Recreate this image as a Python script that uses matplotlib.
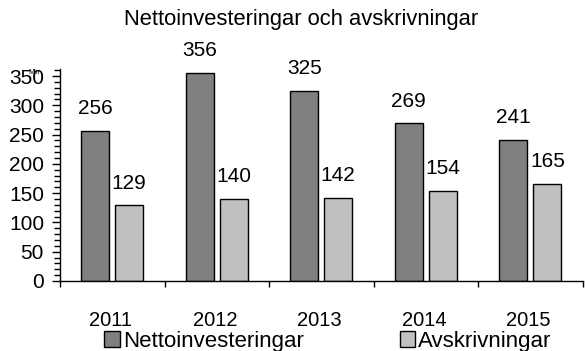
import numpy as np
import matplotlib.pyplot as plt
from matplotlib.patches import Patch
from matplotlib.ticker import MultipleLocator

plt.rcParams['font.family'] = ['Liberation Sans', 'DejaVu Sans']

years = ['2011', '2012', '2013', '2014', '2015']
netto = [256, 356, 325, 269, 241]
avskr = [129, 140, 142, 154, 165]

dark = '#808080'
light = '#c0c0c0'

fig = plt.figure(figsize=(5.85, 3.51), dpi=100)
ax = fig.add_axes([60 / 585, 70 / 351, 523 / 585, 212 / 351])

x = np.arange(len(years))
w = 0.268
b1 = ax.bar(x - 0.165, netto, w, color=dark, edgecolor='black', linewidth=1.0)
b2 = ax.bar(x + 0.16, avskr, w, color=light, edgecolor='black', linewidth=1.0)

for bars, vals in ((b1, netto), (b2, avskr)):
    for r, v in zip(bars, vals):
        ax.text(r.get_x() + r.get_width() / 2, v + 22, str(v),
                ha='center', va='bottom', fontsize=15)

ax.set_xlim(-0.5, len(years) - 0.5)
ax.set_ylim(0, 362)
ax.yaxis.set_major_locator(MultipleLocator(50))
ax.yaxis.set_minor_locator(MultipleLocator(10))
# category separators only, year labels are placed as text below
ax.set_xticks([])
ax.set_xticks(np.arange(-0.5, len(years)), minor=True)
ax.tick_params(axis='x', which='minor', direction='out', length=4, width=1)
ax.tick_params(axis='y', which='major', direction='out', length=6, width=1,
               labelsize=15, pad=5.5)
ax.tick_params(axis='y', which='minor', direction='out', length=4, width=1)

for i, yr in enumerate(years):
    ax.text(i - 0.02, -52, yr, ha='center', va='top', fontsize=14.5)

for side in ('top', 'right'):
    ax.spines[side].set_visible(False)
ax.spines['left'].set_linewidth(1)
ax.spines['bottom'].set_linewidth(1)

fig.text(301 / 585, (351 - 20) / 351, 'Nettoinvesteringar och avskrivningar',
         ha='center', va='center', fontsize=15.8)
fig.text(34 / 585, (351 - 73) / 351, 'Mkr', ha='center', va='center',
         fontsize=5)

handles = [Patch(facecolor=dark, edgecolor='black', linewidth=1),
           Patch(facecolor=light, edgecolor='black', linewidth=1)]
fig.legend(handles, ['Nettoinvesteringar', 'Avskrivningar'], ncol=2,
           loc='center', bbox_to_anchor=(328 / 585, 10 / 351), frameon=False,
           fontsize=16, handlelength=0.7, handleheight=0.7,
           handletextpad=0.15, columnspacing=4.3, borderpad=0, borderaxespad=0)

fig.savefig('out.png', dpi=100)
